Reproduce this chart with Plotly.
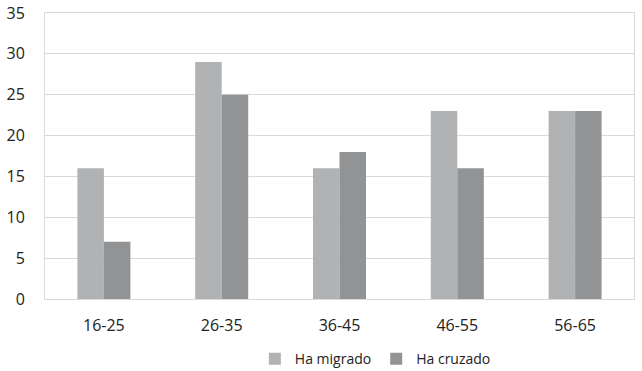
import plotly.graph_objects as go

categories = ["16-25", "26-35", "36-45", "46-55", "56-65"]
ha_migrado = [16, 29, 16, 23, 23]
ha_cruzado = [7, 25, 18, 16, 23]
y_ticks = [0, 5, 10, 15, 20, 25, 30, 35]

fig = go.Figure()
fig.add_trace(go.Bar(name="Ha migrado", x=categories, y=ha_migrado,
                     marker=dict(color="#b1b2b4", line=dict(width=0))))
fig.add_trace(go.Bar(name="Ha cruzado", x=categories, y=ha_cruzado,
                     marker=dict(color="#929395", line=dict(width=0))))

fig.update_layout(
    width=642, height=371,
    margin=dict(l=45, r=8, t=13, b=72, autoexpand=False),
    paper_bgcolor="white", plot_bgcolor="white",
    barmode="group", bargap=0.55, bargroupgap=0,
    font=dict(family="Open Sans, Liberation Sans, sans-serif", size=16, color="#222222"),
    showlegend=True,
    legend=dict(orientation="h", x=0.397, xanchor="left", xref="container",
                y=0.032, yanchor="middle", yref="container",
                font=dict(size=14), itemwidth=30, traceorder="normal"),
)
fig.update_yaxes(range=[0, 35], tickvals=y_ticks, showgrid=True, gridcolor="#d9d9d9",
                 gridwidth=1, showline=True, linecolor="#d9d9d9", mirror=True,
                 zeroline=False, ticks="", ticklabelstandoff=16, automargin=False)
fig.update_xaxes(showline=True, linecolor="#d9d9d9", mirror=True, ticks="",
                 ticklabelstandoff=12, automargin=False)

fig.write_html("out.html", config={"displayModeBar": False},
               post_script="document.body.style.margin='0';")
